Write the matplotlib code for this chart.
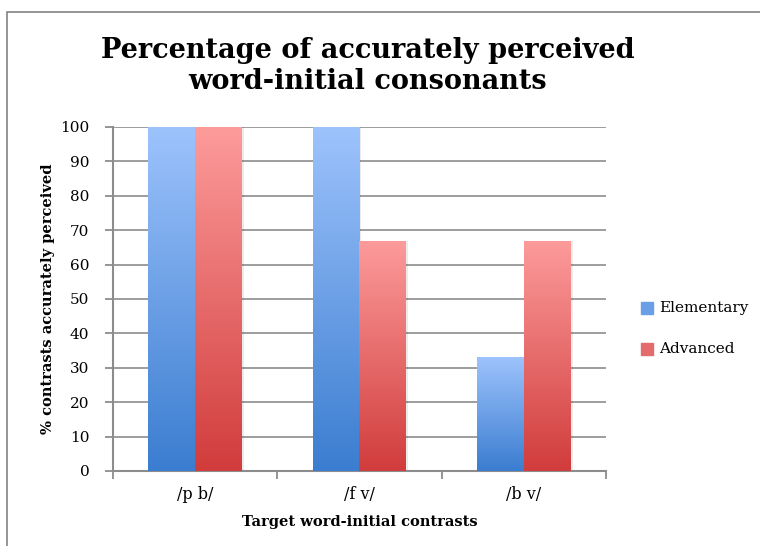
import numpy as np
import matplotlib
matplotlib.use("Agg")
import matplotlib.pyplot as plt
from matplotlib.patches import Rectangle
from matplotlib.colors import LinearSegmentedColormap

# Datos
categorias = ['/p b/', '/f v/', '/b v/']
elementary = [100, 100, 33]
advanced = [100, 67, 67]
series = ['Elementary', 'Advanced']

plt.rcParams['font.family'] = ['DejaVu Serif']

fig = plt.figure(figsize=(7.6, 5.46), dpi=100)
ax = fig.add_axes([113/760, 1 - 471/546, (606 - 113)/760, (471 - 127)/546])

# Degradados tipo Excel (claro arriba, oscuro abajo)
cmap_azul = LinearSegmentedColormap.from_list('azul', ['#3b7dd0', '#9dc3fc'])
cmap_rojo = LinearSegmentedColormap.from_list('rojo', ['#d13c3c', '#fd9b9b'])
grad = np.linspace(0, 1, 256).reshape(-1, 1)

ancho = 0.285
x = np.arange(len(categorias))

def barra_degradado(xc, h, cmap):
    bar = ax.bar(xc, h, width=ancho, color='none', edgecolor='none', zorder=3)[0]
    x0 = bar.get_x()
    im = ax.imshow(grad, cmap=cmap, origin='lower', aspect='auto',
                   extent=[x0, x0 + ancho, 0, h], zorder=3, interpolation='bilinear')
    im.set_clip_path(bar)
    # sombra suave
    ax.add_patch(Rectangle((x0 + ancho, 0), 0.012, h, color='#000000', alpha=0.08,
                           zorder=2, linewidth=0))

for i in range(len(categorias)):
    barra_degradado(x[i] - ancho/2, elementary[i], cmap_azul)
    barra_degradado(x[i] + ancho/2, advanced[i], cmap_rojo)

ax.set_xlim(-0.5, len(categorias) - 0.5)
ax.set_ylim(0, 100)
ax.set_yticks(np.arange(0, 101, 10))
ax.set_xticks([-0.5, 0.5, 1.5, 2.5])
ax.set_xticklabels([])
ax.set_xticks(x, minor=True)
ax.set_xticklabels(categorias, minor=True, fontsize=11.5)
ax.tick_params(axis='x', which='minor', length=0, pad=11)
ax.tick_params(axis='x', which='major', length=6, color='#8c8c8c', width=1.3)
ax.tick_params(axis='y', length=6, color='#8c8c8c', width=1.3, labelsize=11, pad=11)
ax.yaxis.grid(True, color='#8c8c8c', linewidth=1.2, zorder=0)
ax.set_axisbelow(True)

for lado in ['top', 'right']:
    ax.spines[lado].set_visible(False)
for lado in ['left', 'bottom']:
    ax.spines[lado].set_color('#8c8c8c')
    ax.spines[lado].set_linewidth(1.5)

ax.set_ylabel('% contrasts accurately perceived', fontsize=10.5, fontweight='bold', labelpad=4)
ax.set_xlabel('Target word-initial contrasts', fontsize=10.5, fontweight='bold', labelpad=8.5)

fig.text(368/760, 1 - 66/546, 'Percentage of accurately perceived\nword-initial consonants',
         ha='center', va='center', fontsize=19.5, fontweight='bold', linespacing=1.2)

# Leyenda
for j, (nombre, col) in enumerate(zip(series, ['#6a9ee6', '#e46b6b'])):
    yc = 1 - (308 + 41*j)/546
    fig.patches.append(Rectangle((641/760, yc - 6/546), 12/760, 12/546, color=col,
                                 transform=fig.transFigure, figure=fig))
    fig.text(659/760, yc, nombre, va='center', ha='left', fontsize=11)

# Marco del gráfico
fig.patches.append(Rectangle((7/760, -0.1), 1.2, 1 - 12/546 + 0.1, fill=False,
                             edgecolor='#8c8c8c', linewidth=1.3,
                             transform=fig.transFigure, figure=fig))

fig.savefig('out.png', dpi=100)
